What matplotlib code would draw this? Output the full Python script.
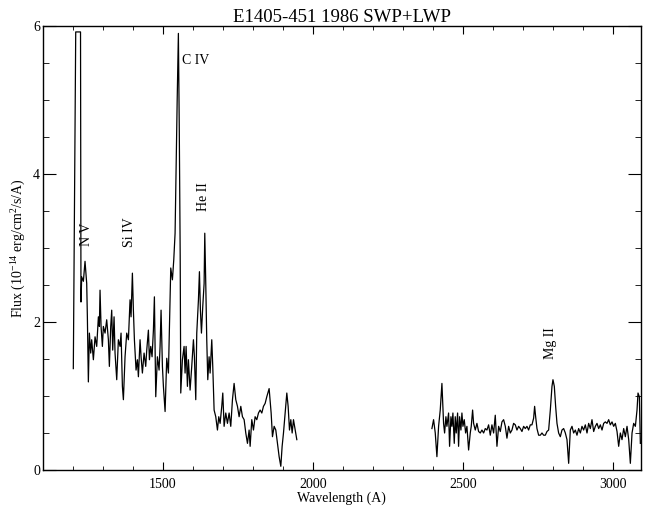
import numpy as np
import matplotlib
matplotlib.use("Agg")
import matplotlib.pyplot as plt
from matplotlib.ticker import MultipleLocator

plt.rcParams['font.family'] = ['Liberation Serif', 'DejaVu Serif']
plt.rcParams['mathtext.fontset'] = 'custom'
plt.rcParams['mathtext.rm'] = 'Liberation Serif'

# SWP spectrum (wavelength in A, flux in 1e-14 erg/cm2/s/A)
swp_wave = [1202, 1210, 1226, 1227.5,
            1229.9, 1235.5, 1241.0, 1246.6, 1248.8, 1252.1, 1255.5, 1259.9, 1263.2, 1268.8,
            1274.4, 1279.9, 1285.5, 1288.8, 1291.0, 1294.4, 1298.8, 1302.1, 1307.7, 1313.2,
            1318.8, 1322.1, 1326.6, 1329.9, 1333.2, 1337.7, 1341.0, 1346.6, 1352.1, 1357.7,
            1361.0, 1365.5, 1368.8, 1374.3, 1379.9, 1385.5, 1391.0, 1394.3, 1398.8, 1402.1,
            1405.5, 1411.0, 1415.5, 1418.8, 1424.3, 1427.7, 1432.1, 1437.7, 1443.2, 1446.6,
            1452.1, 1455.5, 1459.9, 1464.3, 1468.8, 1472.1, 1476.6, 1482.1, 1487.7, 1491.0,
            1494.3, 1498.8, 1502.1, 1507.7, 1513.2, 1518.8, 1522.1, 1526.6, 1532.1, 1536.6,
            1541.0, 1544.0, 1548.0, 1552.0, 1555.0, 1557.0, 1558.0,
            1559.9, 1565.4, 1571.0, 1574.3, 1577.7, 1582.1, 1585.4, 1591.0, 1596.5, 1602.1,
            1605.4, 1609.9, 1613.2, 1618.8, 1622.1, 1625.4, 1628.8, 1633.2, 1637.7, 1639.9,
            1643.2, 1646.5, 1649.9, 1654.3, 1657.7, 1663.2, 1666.5, 1671.0, 1676.5, 1682.1,
            1686.5, 1691.0, 1696.5, 1699.9, 1704.3, 1709.9, 1715.4, 1721.0, 1726.5, 1732.1,
            1737.6, 1743.2, 1748.8, 1754.3, 1759.9, 1765.4, 1771.0, 1776.5, 1782.1, 1787.6,
            1791.0, 1796.5, 1802.1, 1807.6, 1813.2, 1818.8, 1824.3, 1829.9, 1835.4, 1841.0,
            1846.5, 1854.3, 1861.0, 1865.4, 1871.0, 1876.5, 1882.1, 1887.6, 1893.2, 1897.6,
            1902.1, 1907.6, 1913.2, 1917.6, 1922.1, 1926.5, 1931.0, 1935.4, 1941.0, 1946.5]
swp_flux = [1.37, 5.92, 5.92, 2.27,
            2.61, 2.55, 2.82, 2.52, 2.07, 1.19, 1.85, 1.58, 1.76, 1.49,
            1.80, 1.67, 2.07, 1.94, 2.43, 1.94, 1.67, 1.94, 1.85, 2.03,
            1.76, 1.40, 1.94, 2.16, 1.62, 2.07, 1.58, 1.22, 1.76, 1.67,
            1.85, 1.13, 0.95, 1.53, 1.85, 1.76, 2.30, 2.07, 2.66, 2.16,
            1.76, 1.35, 1.49, 1.26, 1.76, 1.53, 1.31, 1.58, 1.40, 1.62,
            1.89, 1.49, 1.67, 1.53, 1.89, 2.34, 0.99, 1.53, 1.35, 1.67,
            2.16, 1.40, 1.13, 0.79, 1.51, 1.31, 1.89, 2.73, 2.57, 2.84,
            3.20, 4.00, 5.00, 5.90, 4.60, 3.50, 2.90,
            1.04, 1.49, 1.67, 1.31, 1.67, 1.13, 1.49, 1.08, 1.40, 1.76,
            1.53, 0.95, 1.85, 2.30, 2.68, 2.16, 1.85, 2.21, 2.52, 3.20,
            2.52, 1.76, 1.22, 1.53, 1.31, 1.76, 1.40, 0.81, 0.72, 0.54,
            0.72, 0.63, 0.86, 1.04, 0.59, 0.77, 0.63, 0.77, 0.59, 0.95,
            1.17, 0.95, 0.86, 0.72, 0.86, 0.72, 0.68, 0.50, 0.36, 0.54,
            0.32, 0.68, 0.54, 0.72, 0.68, 0.77, 0.81, 0.77, 0.86, 0.90,
            0.99, 1.10, 0.77, 0.45, 0.59, 0.54, 0.36, 0.18, 0.05, 0.32,
            0.50, 0.77, 1.04, 0.86, 0.54, 0.68, 0.50, 0.68, 0.54, 0.41]

# LWP spectrum
lwp_wave = [2396.6, 2402.1, 2407.7, 2413.2, 2418.8, 2424.3, 2429.9, 2435.4, 2438.8, 2443.2,
            2446.5, 2452.1, 2455.4, 2459.9, 2463.2, 2466.5, 2471.0, 2474.3, 2477.6, 2482.1,
            2485.4, 2488.8, 2493.2, 2496.5, 2499.9, 2504.3, 2508.8, 2513.2, 2518.8, 2524.3,
            2527.6, 2532.1, 2535.4, 2541.0, 2546.5, 2552.1, 2557.6, 2563.2, 2568.8, 2574.3,
            2579.9, 2585.4, 2591.0, 2596.5, 2602.1, 2607.6, 2613.2, 2618.8, 2624.3, 2629.9,
            2635.4, 2641.0, 2646.5, 2652.1, 2657.6, 2663.2, 2668.7, 2674.3, 2679.9, 2685.4,
            2691.0, 2696.5, 2702.1, 2707.6, 2713.2, 2718.7, 2724.3, 2729.8, 2735.4, 2738.7,
            2742.1, 2746.5, 2752.1, 2757.6, 2763.2, 2768.7, 2774.3, 2779.8, 2785.4, 2791.0,
            2796.5, 2799.8, 2804.3, 2808.7, 2813.2, 2818.7, 2824.3, 2829.8, 2835.4, 2841.0,
            2846.5, 2852.1, 2857.6, 2863.2, 2868.7, 2874.3, 2879.8, 2885.4, 2891.0, 2896.5,
            2902.0, 2907.6, 2913.2, 2918.7, 2924.3, 2929.8, 2935.4, 2941.0, 2946.5, 2952.1,
            2957.6, 2963.2, 2968.7, 2974.3, 2979.8, 2985.4, 2990.9, 2996.5, 3002.0, 3007.6,
            3013.2, 3018.7, 3024.3, 3029.8, 3035.4, 3040.9, 3046.5, 3052.1, 3057.6, 3063.2,
            3068.7, 3074.3, 3079.8, 3083.1, 3087.6, 3090.9]
lwp_flux = [0.56, 0.68, 0.50, 0.18, 0.59, 0.81, 1.17, 0.63, 0.50, 0.72,
            0.59, 0.77, 0.32, 0.72, 0.59, 0.77, 0.36, 0.72, 0.50, 0.77,
            0.32, 0.72, 0.54, 0.77, 0.59, 0.68, 0.50, 0.59, 0.27, 0.50,
            0.59, 0.81, 0.63, 0.54, 0.63, 0.52, 0.50, 0.54, 0.50, 0.56,
            0.54, 0.61, 0.47, 0.61, 0.50, 0.74, 0.32, 0.59, 0.52, 0.65,
            0.68, 0.59, 0.43, 0.59, 0.50, 0.54, 0.63, 0.61, 0.54, 0.59,
            0.56, 0.52, 0.59, 0.56, 0.59, 0.54, 0.61, 0.61, 0.70, 0.86,
            0.72, 0.56, 0.47, 0.47, 0.50, 0.47, 0.47, 0.52, 0.54, 0.81,
            1.13, 1.22, 1.13, 0.86, 0.63, 0.50, 0.45, 0.54, 0.56, 0.50,
            0.41, 0.09, 0.54, 0.59, 0.50, 0.54, 0.47, 0.56, 0.50, 0.59,
            0.54, 0.61, 0.50, 0.63, 0.56, 0.68, 0.52, 0.59, 0.63, 0.56,
            0.61, 0.54, 0.63, 0.65, 0.63, 0.68, 0.61, 0.65, 0.59, 0.63,
            0.52, 0.32, 0.50, 0.41, 0.56, 0.45, 0.59, 0.41, 0.09, 0.50,
            0.63, 0.59, 0.81, 1.04, 0.99, 0.36]

line_labels = ['N V', 'Si IV', 'He II', 'Mg II']
label_wave = [1247, 1388, 1634, 2793]
label_flux = [3.19, 3.22, 3.70, 1.72]


def main():
    fig = plt.figure(figsize=(6.45, 5.07), dpi=100)
    ax = fig.add_axes([0.0662, 0.0730, 0.9271, 0.8757])

    ax.plot(swp_wave, swp_flux, color='black', lw=0.9)
    ax.plot(lwp_wave, lwp_flux, color='black', lw=0.9)

    for txt, w, f in zip(line_labels, label_wave, label_flux):
        ax.text(w, f, txt, rotation=90, ha='center', va='center', fontsize=10)
    ax.text(1563, 5.54, 'C IV', ha='left', va='center', fontsize=10)

    ax.set_xlim(1100, 3092)
    ax.set_ylim(0, 6)
    ax.xaxis.set_major_locator(MultipleLocator(500))
    ax.xaxis.set_minor_locator(MultipleLocator(100))
    ax.yaxis.set_major_locator(MultipleLocator(2))
    ax.yaxis.set_minor_locator(MultipleLocator(0.5))
    ax.tick_params(which='both', direction='in', top=True, right=True, labelsize=10)
    ax.tick_params(axis='x', which='major', length=5.8, pad=6)
    ax.tick_params(axis='x', which='minor', length=2.7)
    ax.tick_params(axis='y', which='major', length=9.4, pad=2)
    ax.tick_params(axis='y', which='minor', length=4.3)
    for s in ax.spines.values():
        s.set_linewidth(1.0)

    ax.set_title('E1405-451 1986 SWP+LWP', fontsize=13.5, pad=3)
    ax.set_xlabel('Wavelength (A)', fontsize=10, labelpad=0)
    ax.set_ylabel('Flux (10$^{-14}$ erg/cm$^{2}$/s/A)', fontsize=10, labelpad=4)

    fig.savefig('out.png', dpi=100)


if __name__ == "__main__":
    main()
